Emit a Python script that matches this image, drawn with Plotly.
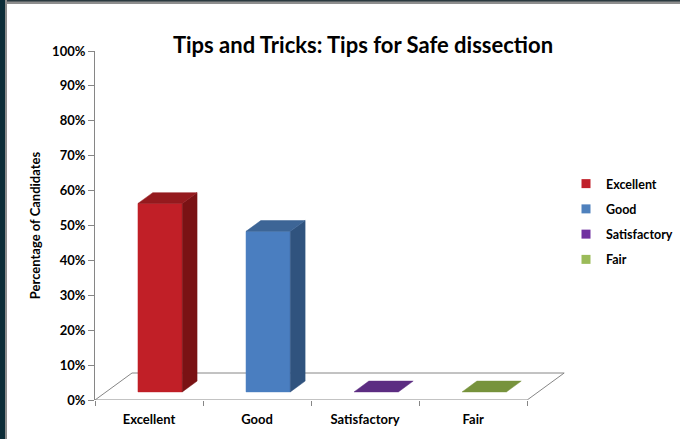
import plotly.graph_objects as go

# data
categories = ["Excellent", "Good", "Satisfactory", "Fair"]
percentages = [54, 46, 0, 0]
y_ticks = list(range(0, 101, 10))

# styles
FRONT = ["#c11f27", "#4a7ec0", "#5c2d82", "#77933c"]
TOP = ["#951a1e", "#3d6596", "#5c2d82", "#77933c"]
SIDE = ["#7a1214", "#30537e", "#5c2d82", "#77933c"]
LEGEND = ["#c0202a", "#4f81bd", "#7030a0", "#9bbb59"]
GREY = "#868686"
FONT = "Lato"

W, H = 680, 439
PL, PR, PT, PB = 95, 565, 51, 400  # plot area in pixels
X_MAX = 4.35
DEPTH_X = 37 / ((PR - PL) / X_MAX)   # floor depth, x units
DEPTH_Y = 27 / ((PB - PT) / 100)     # floor depth, y units
BAR_W = 0.41
D0, D1 = 0.3, 0.7                    # bar depth span as fraction of floor


def px(x, y):
    return (x - PL) / (PR - PL), (PB - y) / (PB - PT)


def face(pts, color, name, group):
    xs = [p[0] for p in pts] + [pts[0][0]]
    ys = [p[1] for p in pts] + [pts[0][1]]
    return go.Scatter(x=xs, y=ys, mode="lines", fill="toself", fillcolor=color,
                      line={"color": color, "width": 0.5}, hoverinfo="skip",
                      showlegend=False, legendgroup=group, name=name)


fig = go.Figure()

# floor outline
n = len(categories)
fig.add_trace(go.Scatter(
    x=[0, n, n + DEPTH_X, DEPTH_X, 0],
    y=[0, 0, DEPTH_Y, DEPTH_Y, 0],
    mode="lines", line={"color": GREY, "width": 1},
    hoverinfo="skip", showlegend=False))

bx, by = (D1 - D0) * DEPTH_X, (D1 - D0) * DEPTH_Y
for i, (cat, v) in enumerate(zip(categories, percentages)):
    x0 = i + 0.5 - BAR_W / 2 + D0 * DEPTH_X
    x1 = x0 + BAR_W
    yb = D0 * DEPTH_Y
    yt = yb + v
    if v > 0:
        fig.add_trace(face([(x0, yb), (x1, yb), (x1, yt), (x0, yt)], FRONT[i], cat, cat))
        fig.add_trace(face([(x1, yb), (x1 + bx, yb + by), (x1 + bx, yt + by), (x1, yt)], SIDE[i], cat, cat))
    fig.add_trace(face([(x0, yt), (x1, yt), (x1 + bx, yt + by), (x0 + bx, yt + by)], TOP[i], cat, cat))

# legend entries
for i, cat in enumerate(categories):
    fig.add_trace(go.Scatter(x=[None], y=[None], mode="markers", name=f"<b>{cat}</b>",
                             legendgroup=cat, xaxis="x2",
                             marker={"symbol": "square", "size": 9, "color": LEGEND[i]}))

# window frame
fx0, _ = px(0, 0)
fx5, _ = px(5, 0)
fx7, _ = px(7, 0)
_, fy_top = px(0, 0)
_, fy_bot = px(0, H)
_, fy1 = px(0, 1.5)
_, fy4 = px(0, 4)
fxr, _ = px(W, 0)
shapes = [
    dict(type="rect", xref="paper", yref="paper", x0=fx0, x1=fxr, y0=fy4, y1=fy_top,
         fillcolor="#8e8e8e", line_width=0, layer="above"),
    dict(type="rect", xref="paper", yref="paper", x0=fx0, x1=fxr, y0=fy1, y1=fy_top,
         fillcolor="#2b3a40", line_width=0, layer="above"),
    dict(type="rect", xref="paper", yref="paper", x0=fx0, x1=fx7, y0=fy_bot, y1=fy_top,
         fillcolor="#8c8c8c", line_width=0, layer="above"),
    dict(type="rect", xref="paper", yref="paper", x0=fx0, x1=fx5, y0=fy_bot, y1=fy_top,
         fillcolor="#0c2d38", line_width=0, layer="above"),
]

tx, _ = px(363, 0)
lx, ly = px(566, 169)

fig.update_layout(
    width=W, height=H,
    margin={"l": PL, "r": W - PR, "t": PT, "b": H - PB, "autoexpand": False},
    paper_bgcolor="white", plot_bgcolor="white",
    font={"family": FONT, "color": "#000000", "size": 12},
    title={"text": "<b>Tips and Tricks: Tips for Safe dissection</b>",
           "x": tx, "xref": "paper", "xanchor": "center",
           "y": 1 - 45 / H, "yref": "container", "yanchor": "middle",
           "font": {"size": 22, "family": FONT}},
    xaxis={"range": [0, X_MAX], "tickvals": [i + 0.5 for i in range(n)],
           "ticktext": [f"<b>{c}</b>" for c in categories], "ticks": "",
           "showgrid": False, "zeroline": False, "showline": False,
           "ticklabelstandoff": 10, "tickfont": {"size": 13}},
    xaxis2={"range": [0, X_MAX], "overlaying": "x", "anchor": "y",
            "tickvals": list(range(n + 1)), "ticks": "outside", "ticklen": 5,
            "tickcolor": GREY, "showticklabels": False, "showgrid": False,
            "zeroline": False, "showline": False},
    yaxis={"range": [0, 100], "tickvals": y_ticks,
           "ticktext": [f"<b>{t}%</b>" for t in y_ticks],
           "ticks": "outside", "ticklen": 6, "tickcolor": GREY,
           "showline": True, "linecolor": GREY, "linewidth": 1,
           "showgrid": False, "zeroline": False, "tickfont": {"size": 13},
           "title": {"text": "<b>Percentage of Candidates</b>", "standoff": 8,
                     "font": {"size": 13}}},
    legend={"x": lx, "y": ly, "xanchor": "left", "yanchor": "top",
            "traceorder": "grouped", "tracegroupgap": 6,
            "font": {"size": 12.5}, "bgcolor": "rgba(0,0,0,0)"},
    shapes=shapes,
)

fig.write_html("out.html", config={"displayModeBar": False},
               post_script="document.body.style.margin='0';")
